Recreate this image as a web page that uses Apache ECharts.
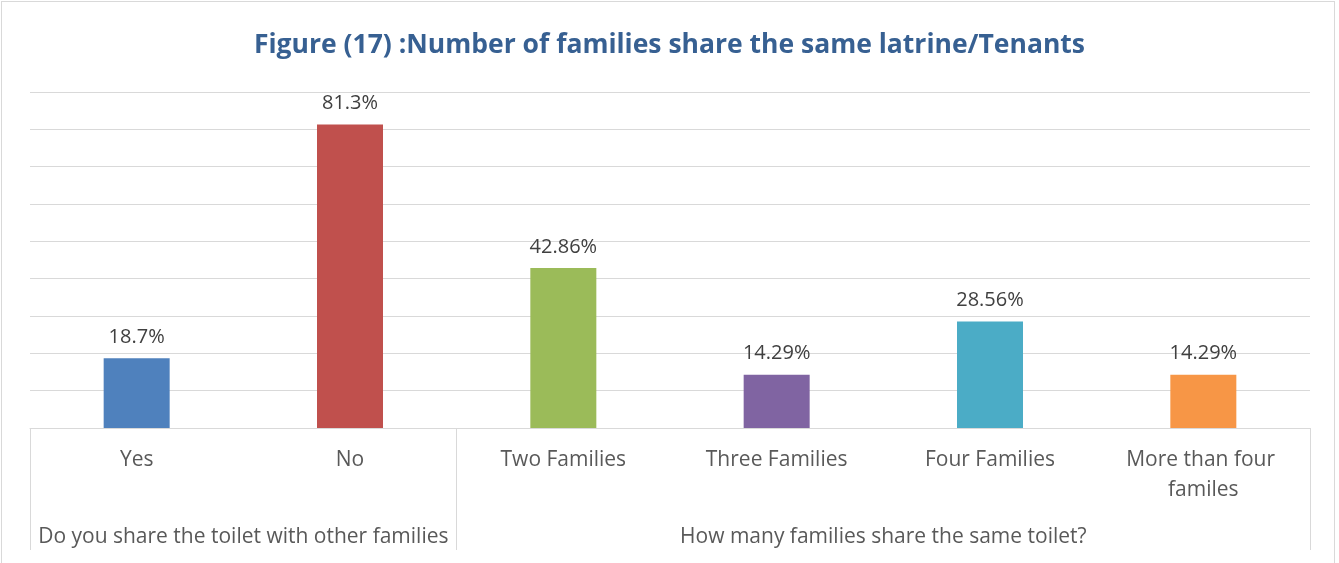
<!DOCTYPE html>
<html>
<head>
<meta charset="utf-8">
<script src="https://cdn.jsdelivr.net/npm/echarts@6/dist/echarts.min.js"></script>
<style>
  html, body { margin: 0; padding: 0; background: #fff; overflow: hidden; }
  #frame { position: absolute; left: 1px; top: 1px; width: 1334px; height: 600px; border: 1px solid #d9d9d9; box-sizing: border-box; }
  #chart { position: absolute; left: 0; top: 0; width: 1339px; height: 563px; }
</style>
</head>
<body>
<div id="frame"></div>
<div id="chart"></div>
<script>
// Answers, one bar each
const categories = ['Yes', 'No', 'Two Families', 'Three Families', 'Four Families', 'More than four familes'];
const values = [18.7, 81.3, 42.86, 14.29, 28.56, 14.29];
// Question groups: label, first category index, end category index
const groupNames = ['Do you share the toilet with other families', 'How many families share the same toilet?'];
const groupStarts = [0, 2];
const groupEnds = [2, 6];
const titleText = 'Figure (17) :Number of families share the same latrine/Tenants';

const barColors = ['#4f81bd', '#c0504d', '#9bbb59', '#8064a2', '#4bacc6', '#f79646'];
const font = '"Open Sans", Lato, sans-serif';

// group label positions (centre of each group) and separator positions
const groupCentres = groupStarts.map((s, i) => (s + groupEnds[i]) / 2);
const separators = [groupStarts[0]].concat(groupEnds);

const chart = echarts.init(document.getElementById('chart'));
chart.setOption({
  animation: false,
  title: {
    text: titleText,
    left: 'center',
    top: 27,
    textStyle: { fontFamily: font, fontSize: 26.5, fontWeight: 'bold', color: '#376092' }
  },
  grid: { left: 30, right: 29, top: 92, bottom: 135, containLabel: false },
  xAxis: [
    {
      type: 'category',
      data: categories,
      axisLine: { show: true, lineStyle: { color: '#d9d9d9', width: 1 } },
      axisTick: { show: false },
      axisLabel: {
        interval: 0,
        margin: 17,
        width: 190,
        overflow: 'break',
        lineHeight: 30,
        fontFamily: font,
        fontSize: 21,
        color: '#595959'
      }
    },
    {
      type: 'value',
      min: 0,
      max: categories.length,
      position: 'bottom',
      axisLine: { show: false },
      splitLine: { show: false },
      axisTick: {
        show: true,
        customValues: separators,
        length: 122,
        lineStyle: { color: '#d9d9d9', width: 1 }
      },
      axisLabel: {
        customValues: groupCentres,
        margin: 99,
        formatter: function (v) {
          const i = groupCentres.indexOf(v);
          return i >= 0 ? groupNames[i] : '';
        },
        fontFamily: font,
        fontSize: 21,
        color: '#595959'
      }
    }
  ],
  yAxis: {
    type: 'value',
    min: 0,
    max: 90,
    interval: 10,
    axisLine: { show: false },
    axisTick: { show: false },
    axisLabel: { show: false },
    splitLine: { lineStyle: { color: '#d9d9d9', width: 1 } }
  },
  series: [{
    type: 'bar',
    xAxisIndex: 0,
    data: values,
    barWidth: 66,
    colorBy: 'data',
    color: barColors,
    label: {
      show: true,
      position: 'top',
      distance: 11,
      formatter: p => p.value + '%',
      fontFamily: font,
      fontSize: 20,
      color: '#404040'
    }
  }]
});
</script>
</body>
</html>
